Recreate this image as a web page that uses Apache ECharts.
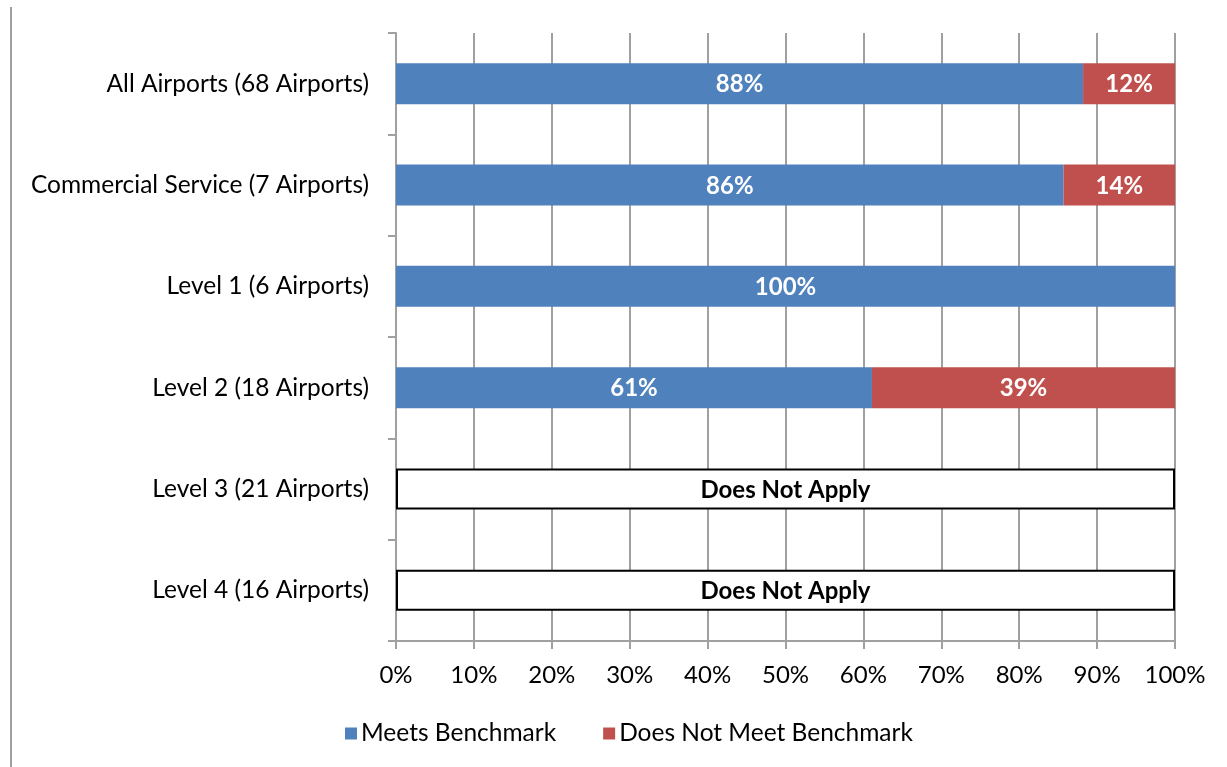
<!DOCTYPE html>
<html><head><meta charset="utf-8">
<script src="https://cdn.jsdelivr.net/npm/echarts@6/dist/echarts.min.js"></script>
<style>html,body{margin:0;padding:0;background:#fff}#c{width:1227px;height:767px}</style>
</head><body><div id="c"></div>
<script>
const categories = ['All Airports (68 Airports)','Commercial Service (7 Airports)','Level 1 (6 Airports)','Level 2 (18 Airports)','Level 3 (21 Airports)','Level 4 (16 Airports)'];
const meets = [88.2, 85.7, 100, 61.1, null, null];
const notMeet = [11.8, 14.3, 0, 38.9, null, null];
const notApply = [null, null, null, null, 100, 100];
const xTicks = [0,10,20,30,40,50,60,70,80,90,100];

const FONT = 'Lato';
const chart = echarts.init(document.getElementById('c'));
chart.setOption({
  animation:false,
  textStyle:{fontFamily:FONT},
  grid:{left:396, right:52, top:33, bottom:126, containLabel:false},
  legend:{
    data:['Meets Benchmark','Does Not Meet Benchmark'],
    top:716, left:340, itemWidth:12, itemHeight:12, itemGap:47,
    icon:'rect',
    textStyle:{fontSize:24.5, color:'#000', fontFamily:FONT, padding:[0,0,0,-1]}
  },
  xAxis:{
    type:'value', min:0, max:100, interval:10,
    axisLine:{show:true, lineStyle:{color:'#a0a0a0', width:2}},
    axisTick:{show:true, length:8, lineStyle:{color:'#a0a0a0', width:2}},
    axisLabel:{formatter:v=>v+'%', fontSize:24, color:'#000', margin:22, fontFamily:FONT},
    splitLine:{show:true, lineStyle:{color:'#a0a0a0', width:2}}
  },
  yAxis:{
    type:'category', data:categories, inverse:true,
    axisLine:{show:true, lineStyle:{color:'#a0a0a0', width:2}},
    axisTick:{show:true, length:8, lineStyle:{color:'#a0a0a0', width:2}},
    axisLabel:{fontSize:24.5, color:'#000', margin:27, fontFamily:FONT}
  },
  series:[
    {name:'Meets Benchmark', type:'bar', stack:'a', data:meets, barWidth:41,
     itemStyle:{color:'#4f81bd'},
     label:{show:true, position:'inside', offset:[0,1], color:'#fff', fontWeight:'bold', fontSize:24, fontFamily:FONT,
       formatter:p=>Math.round(p.value)+'%'}},
    {name:'Does Not Meet Benchmark', type:'bar', stack:'a', data:notMeet, barWidth:41,
     itemStyle:{color:'#c0504d'},
     label:{show:true, position:'inside', offset:[0,1], color:'#fff', fontWeight:'bold', fontSize:24, fontFamily:FONT,
       formatter:p=>p.value>0?Math.round(p.value)+'%':''}},
    {name:'Does Not Apply', type:'bar', stack:'b', data:notApply, barWidth:41, barGap:'-100%',
     itemStyle:{color:'#fff', borderColor:'#000', borderWidth:2},
     label:{show:true, position:'inside', offset:[0,1], color:'#000', fontWeight:'bold', fontSize:24, fontFamily:FONT,
       formatter:'Does Not Apply'}}
  ],
  graphic:[{type:'line', shape:{x1:11, y1:7, x2:11, y2:767}, style:{stroke:'#a0a0a0', lineWidth:2}}]
});
</script></body></html>
